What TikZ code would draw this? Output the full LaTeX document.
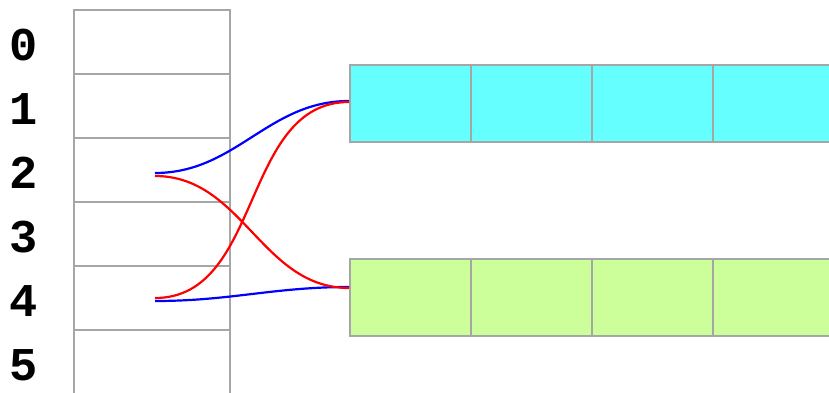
\documentclass[tikz,border=0pt]{standalone}
\usepackage{fontspec}
\setmonofont{Liberation Mono}
\usetikzlibrary{positioning}
\definecolor{rowcyan}{HTML}{66FFFF}
\definecolor{rowgreen}{HTML}{CCFF99}
\definecolor{cellgray}{HTML}{A6A6A6}
\begin{document}
\begin{tikzpicture}
    [x=1pt, y=-1pt,
      slot/.style={draw=cellgray, line width=2.3pt, minimum width=156pt, minimum height=64pt, inner sep=0pt, outer sep=0pt},
      cell/.style={draw=cellgray, line width=2.3pt, minimum width=121pt, minimum height=77pt, inner sep=0pt, outer sep=0pt},
      index/.style={font=\fontsize{47}{47}\selectfont\ttfamily\bfseries, inner sep=0pt},
      link/.style={line width=2.2pt, out=0, in=180},
    ]
    \useasboundingbox (0,0) rectangle (829,393);
    \clip (0,0) rectangle (829,393);
    % slots of the table
    \node [slot] (s0) at (152,42) {};
    \foreach \i [count=\j from 1] in {0,...,4} {
        \node [slot, below=0pt of s\i] (s\j) {};
      }
    \foreach \i in {0,...,5} {
        \node [index] (n\i) at (24,45+64*\i) {\i};
      }
    % the two rows
    \node [cell, fill=rowcyan] (a0) at (410.5,103.5) {};
    \node [cell, fill=rowgreen] (b0) at (410.5,297.5) {};
    \foreach \i [count=\j from 1] in {0,...,2} {
        \node [cell, fill=rowcyan, right=0pt of a\i] (a\j) {};
        \node [cell, fill=rowgreen, right=0pt of b\i] (b\j) {};
      }
    % links
    \coordinate (p2a) at (155,173);
    \coordinate (p2b) at (155,176);
    \coordinate (p4a) at (155,298);
    \coordinate (p4b) at (155,301);
    \coordinate (qa1) at (349,101);
    \coordinate (qa2) at (349,102);
    \coordinate (qb1) at (349,287);
    \coordinate (qb2) at (349,288);
    \draw [link, blue] (p2a) to (qa1);
    \draw [link, blue] (p4b) to (qb1);
    \draw [link, red] (p2b) to (qb2);
    \draw [link, red] (p4a) to (qa2);
  \end{tikzpicture}
\end{document}
